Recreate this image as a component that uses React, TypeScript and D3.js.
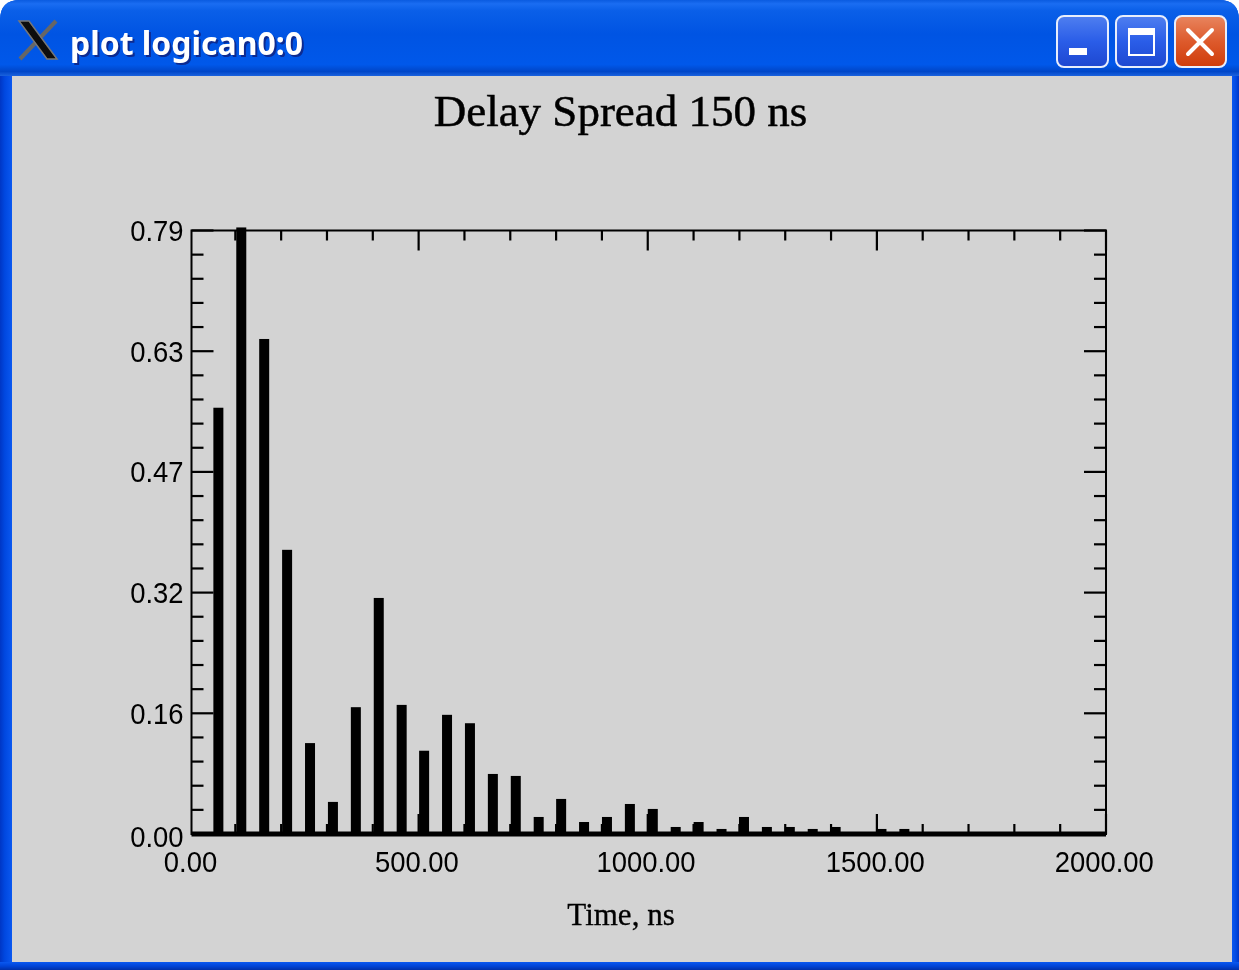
import React, { useRef, useEffect } from 'react';
import * as d3 from 'd3';

// impulse times (ns) and heights
const times = [63, 113, 163, 213, 263, 313, 363, 413, 463, 512, 562, 612, 662, 712, 762, 811, 861, 911, 961, 1011, 1061, 1111, 1161, 1210, 1260, 1310, 1360, 1410, 1460, 1510, 1560, 1610, 1660, 1710, 1760, 1810, 1860, 1910, 1960];
const values = [0.558, 0.794, 0.648, 0.372, 0.119, 0.042, 0.166, 0.309, 0.169, 0.109, 0.156, 0.145, 0.0786, 0.076, 0.0223, 0.0459, 0.0157, 0.0223, 0.0393, 0.0328, 0.0092, 0.0157, 0.0066, 0.0223, 0.0092, 0.0092, 0.0066, 0.0092, 0, 0.0066, 0.0066, 0, 0, 0, 0, 0, 0, 0, 0];

const xDomain = [0, 2000];
const yDomain = [0, 0.79];
const xMajor = [0, 500, 1000, 1500, 2000];
const xMinor = [100, 200, 300, 400, 600, 700, 800, 900, 1100, 1200, 1300, 1400, 1600, 1700, 1800, 1900];
const yMajor = [0, 0.158, 0.316, 0.474, 0.632, 0.79];
const yMinor = [0.0316, 0.0632, 0.0948, 0.1264, 0.1896, 0.2212, 0.2528, 0.2844, 0.3476, 0.3792, 0.4108, 0.4424, 0.5056, 0.5372, 0.5688, 0.6004, 0.6636, 0.6952, 0.7268, 0.7584];

const chartTitle = 'Delay Spread 150 ns';
const xLabel = 'Time, ns';
const windowTitle = 'plot logican0:0';

const App = () => {
    const svgRef = useRef<SVGSVGElement>(null);

    useEffect(() => {
        const root = d3.select(svgRef.current);
        root.selectAll('*').remove();

        const width = 1239;
        const height = 970;
        const plot = { left: 191.5, right: 1106, top: 230.5, bottom: 834 };

        // the x scale starts a little left of the frame, the ticks sit there in the original
        const x = d3.scaleLinear().domain(xDomain).range([189.5, plot.right]);
        const y = d3.scaleLinear().domain(yDomain).range([plot.bottom, plot.top]);

        const defs = root.append('defs');
        const grad = (id: string, stops: [number, string][], horizontal = false) => {
            const g = defs.append('linearGradient').attr('id', id)
                .attr('x1', 0).attr('y1', 0)
                .attr('x2', horizontal ? 1 : 0).attr('y2', horizontal ? 0 : 1);
            stops.forEach(([o, c]) => g.append('stop').attr('offset', o).attr('stop-color', c));
        };
        grad('titleBar', [[0, '#0a5be0'], [0.05, '#1a6df2'], [0.14, '#0a5fe8'], [0.45, '#0054e3'], [0.85, '#0058ea'], [0.94, '#0046c8'], [1, '#1a62de']]);
        grad('btnBlue', [[0, '#4f7ff0'], [0.5, '#2a5de8'], [1, '#1d47d0']]);
        grad('btnRed', [[0, '#e8855f'], [0.5, '#dd5a2c'], [1, '#cf3c0a']]);
        grad('leftEdge', [[0, '#0036c4'], [0.4, '#0048e0'], [1, '#0a58f0']], true);
        grad('rightEdge', [[0, '#0a58f0'], [0.6, '#0048e0'], [1, '#0036c4']], true);
        grad('bottomEdge', [[0, '#0a58f0'], [0.5, '#0044d8'], [1, '#002fa8']]);
        defs.append('filter').attr('id', 'soft').append('feGaussianBlur').attr('stdDeviation', 0.55);

        // window frame
        root.append('rect').attr('width', width).attr('height', height).attr('fill', '#ffffff');
        root.append('path')
            .attr('d', `M0,${height}V20Q0,0 20,0H${width - 20}Q${width},0 ${width},20V${height}Z`)
            .attr('fill', '#0050e0');
        root.append('rect').attr('x', 0).attr('y', 70).attr('width', 12).attr('height', 900).attr('fill', 'url(#leftEdge)');
        root.append('rect').attr('x', 1232).attr('y', 70).attr('width', 7).attr('height', 900).attr('fill', 'url(#rightEdge)');
        root.append('path')
            .attr('d', `M0,76V20Q0,0 20,0H${width - 20}Q${width},0 ${width},20V76Z`)
            .attr('fill', 'url(#titleBar)');
        root.append('rect').attr('x', 0).attr('y', 962).attr('width', width).attr('height', 8).attr('fill', 'url(#bottomEdge)');
        root.append('rect').attr('x', 12).attr('y', 76).attr('width', 1220).attr('height', 886).attr('fill', '#d3d3d3');

        // X logo
        const logo = root.append('g').attr('filter', 'url(#soft)');
        logo.append('path').attr('d', 'M56,21L20,59').attr('stroke', '#666').attr('stroke-width', 4).attr('fill', 'none');
        logo.append('path').attr('d', 'M19,21L29,21L57,59L47,59Z').attr('fill', '#0c0c0c').attr('stroke', '#777').attr('stroke-width', 1.5);

        const titleFont = '"Noto Sans", sans-serif';
        root.append('text').attr('x', 72).attr('y', 57).attr('fill', '#0a2a90')
            .attr('font-family', titleFont).attr('font-weight', 700).attr('font-size', 33)
            .attr('textLength', 233).attr('lengthAdjust', 'spacingAndGlyphs').attr('filter', 'url(#soft)').text(windowTitle);
        root.append('text').attr('x', 70).attr('y', 55).attr('fill', '#ffffff')
            .attr('font-family', titleFont).attr('font-weight', 700).attr('font-size', 33)
            .attr('textLength', 233).attr('lengthAdjust', 'spacingAndGlyphs').attr('filter', 'url(#soft)').text(windowTitle);

        // caption buttons
        [[1057, 'btnBlue'], [1116, 'btnBlue'], [1175, 'btnRed']].forEach(([bx, fill]) => {
            root.append('rect').attr('x', bx as number).attr('y', 16).attr('width', 51).attr('height', 51).attr('rx', 7)
                .attr('fill', `url(#${fill})`).attr('stroke', '#e8eefc').attr('stroke-width', 2);
        });
        root.append('rect').attr('x', 1069).attr('y', 48).attr('width', 18).attr('height', 7).attr('fill', '#fff');
        root.append('rect').attr('x', 1129).attr('y', 30).attr('width', 25).attr('height', 25).attr('fill', 'none').attr('stroke', '#fff').attr('stroke-width', 2);
        root.append('rect').attr('x', 1128).attr('y', 28).attr('width', 27).attr('height', 7).attr('fill', '#fff');
        root.append('path').attr('d', 'M1188,30L1212,54M1212,30L1188,54').attr('stroke', '#fff').attr('stroke-width', 4).attr('stroke-linecap', 'round');

        // chart
        const chart = root.append('g').attr('filter', 'url(#soft)');

        // 1. impulses and thick baseline
        chart.append('line')
            .attr('x1', plot.left).attr('x2', plot.right)
            .attr('y1', y(0)).attr('y2', y(0))
            .attr('stroke', '#000').attr('stroke-width', 5);

        chart.append('g').selectAll('rect')
            .data(times)
            .join('rect')
            .attr('x', d => x(d) - 5)
            .attr('width', 10)
            .attr('y', (_, i) => y(values[i]))
            .attr('height', (_, i) => y(0) - y(values[i]))
            .attr('fill', '#000');

        // 2. frame and ticks
        chart.append('rect')
            .attr('x', plot.left).attr('y', plot.top)
            .attr('width', plot.right - plot.left).attr('height', plot.bottom - plot.top)
            .attr('fill', 'none').attr('stroke', '#000').attr('stroke-width', 2);

        const noLabel = () => '';
        const fmt = (d: d3.NumberValue) => (+d).toFixed(2);
        const addAxis = (axis: d3.Axis<d3.NumberValue>, tx: number, ty: number) => {
            const g = chart.append('g').attr('transform', `translate(${tx},${ty})`).call(axis.offset(0) as any);
            g.select('.domain').remove();
            g.selectAll('.tick line').attr('stroke', '#000').attr('stroke-width', 2.2);
            g.selectAll<SVGTextElement, unknown>('.tick text')
                .attr('fill', '#000')
                .attr('font-family', '"Liberation Sans", sans-serif')
                .attr('font-size', 29)
                .each(function () {
                    // the original digits are taller than they are wide
                    if (!this.textContent) return;
                    this.setAttribute('textLength', String(this.getComputedTextLength() * 0.945));
                    this.setAttribute('lengthAdjust', 'spacingAndGlyphs');
                });
            return g;
        };

        const xBottom = addAxis(d3.axisBottom(x).tickValues(xMajor).tickSize(-20).tickFormat(fmt).tickPadding(0), 0, plot.bottom);
        xBottom.selectAll('.tick text').attr('x', d => (d === 0 ? 1 : -1.7)).attr('y', 37.5).attr('dy', 0);
        // the first tick would sit outside the frame
        xBottom.selectAll('.tick line').filter(d => d === 0).remove();
        addAxis(d3.axisBottom(x).tickValues(xMinor).tickSize(-10).tickFormat(noLabel), 0, plot.bottom);
        addAxis(d3.axisTop(x).tickValues(xMajor.slice(1)).tickSize(-20).tickFormat(noLabel), 0, plot.top);
        addAxis(d3.axisTop(x).tickValues(xMinor).tickSize(-10).tickFormat(noLabel), 0, plot.top);

        const yLeft = addAxis(d3.axisLeft(y).tickValues(yMajor).tickSize(-22).tickFormat(fmt).tickPadding(8), plot.left, 0);
        yLeft.selectAll('.tick text').attr('dy', d => (d === 0 ? 12.5 : 10.5));
        addAxis(d3.axisLeft(y).tickValues(yMinor).tickSize(-12).tickFormat(noLabel), plot.left, 0);
        addAxis(d3.axisRight(y).tickValues(yMajor).tickSize(-22).tickFormat(noLabel), plot.right, 0);
        addAxis(d3.axisRight(y).tickValues(yMinor).tickSize(-12).tickFormat(noLabel), plot.right, 0);

        // 3. titles
        chart.append('text')
            .attr('x', 620.5).attr('y', 126)
            .attr('text-anchor', 'middle')
            .attr('font-family', '"Liberation Serif", serif')
            .attr('font-size', 45)
            .attr('fill', '#000')
            .attr('stroke', '#000').attr('stroke-width', 0.5)
            .text(chartTitle);

        chart.append('text')
            .attr('x', 621).attr('y', 925)
            .attr('text-anchor', 'middle')
            .attr('font-family', '"Liberation Serif", serif')
            .attr('font-size', 31)
            .attr('fill', '#000')
            .attr('stroke', '#000').attr('stroke-width', 0.3)
            .text(xLabel);
    }, []);

    return <svg ref={svgRef} width={1239} height={970} style={{ position: 'absolute', left: 0, top: 0, display: 'block' }} />;
};

export default App;
